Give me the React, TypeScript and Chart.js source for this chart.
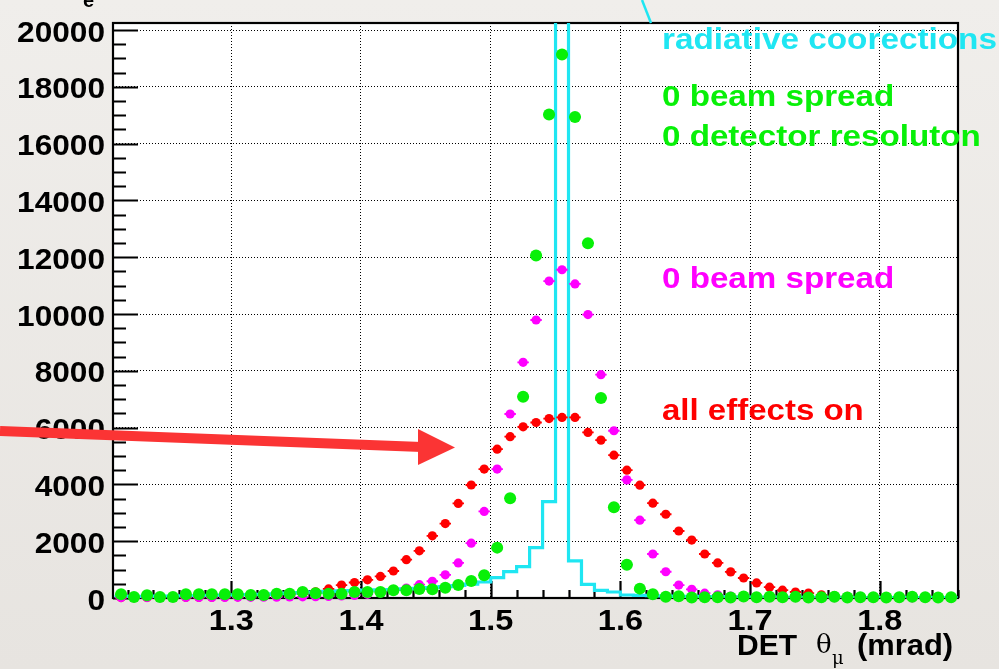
import React, { useEffect, useRef } from 'react';
import { Chart, registerables } from 'chart.js';

Chart.register(...registerables);

// ---------- data ----------
const BIN_HALF_WIDTH = 0.005;

const BIN_CENTERS = [
  1.215, 1.225, 1.235, 1.245, 1.255, 1.265, 1.275, 1.285, 1.295, 1.305,
  1.315, 1.325, 1.335, 1.345, 1.355, 1.365, 1.375, 1.385, 1.395, 1.405,
  1.415, 1.425, 1.435, 1.445, 1.455, 1.465, 1.475, 1.485, 1.495, 1.505,
  1.515, 1.525, 1.535, 1.545, 1.555, 1.565, 1.575, 1.585, 1.595, 1.605,
  1.615, 1.625, 1.635, 1.645, 1.655, 1.665, 1.675, 1.685, 1.695, 1.705,
  1.715, 1.725, 1.735, 1.745, 1.755, 1.765, 1.775, 1.785, 1.795, 1.805,
  1.815, 1.825, 1.835, 1.845, 1.855,
];

// cyan: radiative corrections only (step histogram)
const RADIATIVE = [
  60, 60, 60, 70, 70, 80, 80, 90, 100, 110,
  120, 130, 150, 170, 190, 210, 230, 250, 260, 280,
  290, 300, 320, 340, 370, 400, 440, 490, 564, 716,
  928, 1104, 1774, 3397, 60000, 1305, 483, 272, 212, 106,
  90, 80, 70, 60, 55, 50, 45, 40, 35, 30,
  30, 25, 25, 20, 20, 20, 15, 15, 15, 10,
  10, 10, 10, 10, 10,
];

// green: 0 beam spread, 0 detector resolution
const NO_SPREAD_NO_RES = [
  130, 35, 94, 35, 35, 130, 130, 130, 130, 130,
  106, 106, 152, 152, 212, 165, 152, 152, 212, 212,
  212, 272, 272, 320, 306, 364, 458, 600, 805, 1774,
  3510, 7089, 12062, 17025, 19141, 16940, 12496, 7043, 3195, 1175,
  330, 130, 40, 60, 20, 30, 30, 20, 50, 30,
  40, 30, 40, 20, 30, 40, 20, 30, 30, 20,
  30, 40, 30, 20, 30,
];

// magenta: 0 beam spread
const NO_SPREAD = [
  15, 15, 15, 15, 15, 20, 20, 20, 20, 25,
  25, 30, 30, 35, 40, 45, 55, 70, 90, 130,
  180, 250, 350, 470, 590, 815, 1235, 1930, 3050, 4540,
  6480, 8300, 9790, 11160, 11560, 11060, 9980, 7865, 5890, 4160,
  2740, 1550, 925, 455, 305, 170, 110, 70, 45, 30,
  20, 15, 15, 10, 10, 10, 10, 10, 5, 5,
  5, 5, 5, 5, 5,
];

// red: all effects on
const ALL_EFFECTS = [
  15, 10, 20, 15, 20, 25, 25, 30, 35, 40,
  50, 60, 80, 110, 150, 220, 320, 455, 545, 640,
  760, 950, 1350, 1660, 2190, 2620, 3330, 3980, 4540, 5240,
  5680, 6030, 6180, 6320, 6360, 6360, 5830, 5560, 5030, 4500,
  3975, 3340, 2950, 2360, 2040, 1550, 1235, 920, 705, 530,
  380, 275, 212, 175, 110, 80, 55, 40, 30, 25,
  20, 15, 15, 10, 10,
];

const X_TICKS = [1.3, 1.4, 1.5, 1.6, 1.7, 1.8];
const X_TICK_LABELS = ['1.3', '1.4', '1.5', '1.6', '1.7', '1.8'];
const Y_TICKS = [0, 2000, 4000, 6000, 8000, 10000, 12000, 14000, 16000, 18000, 20000];
const Y_TICK_LABELS = ['0', '2000', '4000', '6000', '8000', '10000', '12000', '14000', '16000', '18000', '20000'];
const X_MIN = 1.2088;
const X_MAX = 1.8603;
const Y_MAX = 20250;
const X_MINOR_STEP = 0.02;
const Y_MINOR_STEP = 500;

// ---------- style ----------
const FONT = '"Liberation Sans", Arial, Helvetica, sans-serif';
const CYAN = '#1fe6f2';
const GREEN = '#08f008';
const MAGENTA = '#ff00ff';
const RED = '#ff0000';

const pts = (vals: number[]) => BIN_CENTERS.map((c, i) => ({ x: c, y: vals[i] }));
const histPts = (vals: number[]) => {
  const out = BIN_CENTERS.map((c, i) => ({ x: c - BIN_HALF_WIDTH, y: vals[i] }));
  const last = BIN_CENTERS.length - 1;
  out.push({ x: BIN_CENTERS[last] + BIN_HALF_WIDTH, y: vals[last] });
  return out;
};

const wideText = (ctx: CanvasRenderingContext2D, s: string, x: number, y: number, sx: number) => {
  ctx.save();
  ctx.translate(x, y);
  ctx.scale(sx, 1);
  ctx.fillText(s, 0, 0);
  ctx.restore();
};

const rootStyle = {
  id: 'rootStyle',
  beforeDraw(chart: any) {
    const { ctx, width, height, chartArea: a } = chart;
    ctx.save();
    const g = ctx.createLinearGradient(0, 0, 0, height);
    g.addColorStop(0, '#f0eeeb');
    g.addColorStop(1, '#e7e4e0');
    ctx.fillStyle = g;
    ctx.fillRect(0, 0, width, height);
    ctx.fillStyle = '#ffffff';
    ctx.fillRect(a.left, a.top, a.right - a.left, a.bottom - a.top);
    ctx.restore();
  },
  beforeDatasetsDraw(chart: any) {
    const { ctx, chartArea: a, scales } = chart;
    const x = scales.x;
    const y = scales.y;
    ctx.save();
    ctx.strokeStyle = '#000';
    ctx.lineWidth = 2.2;
    ctx.beginPath();
    for (let v = 0; v <= Y_TICKS[Y_TICKS.length - 1] + 1; v += Y_MINOR_STEP) {
      const py = Math.round(y.getPixelForValue(v)) + 0.5;
      const major = Y_TICKS.includes(v);
      ctx.moveTo(a.left, py);
      ctx.lineTo(a.left + (major ? 25 : 13), py);
    }
    for (let k = 0; ; k++) {
      const v = Math.round((1.22 + k * X_MINOR_STEP) * 1000) / 1000;
      if (v > X_MAX) break;
      const px = Math.round(x.getPixelForValue(v)) + 0.5;
      const major = X_TICKS.some((t) => Math.abs(t - v) < 1e-6);
      ctx.moveTo(px, a.bottom);
      ctx.lineTo(px, a.bottom - (major ? 17 : 8));
    }
    ctx.stroke();
    ctx.lineWidth = 2.2;
    ctx.strokeRect(a.left, a.top, a.right - a.left, a.bottom - a.top);

    // tick labels (slightly wide bold Helvetica look)
    ctx.fillStyle = '#000';
    ctx.font = `bold 29px ${FONT}`;
    ctx.textBaseline = 'alphabetic';
    ctx.textAlign = 'right';
    Y_TICKS.forEach((v, i) => {
      const py = y.getPixelForValue(v);
      wideText(ctx, Y_TICK_LABELS[i], 105, py + 11.5, 1.09);
    });
    ctx.textAlign = 'center';
    X_TICKS.forEach((v, i) => {
      const px = x.getPixelForValue(v);
      wideText(ctx, X_TICK_LABELS[i], px, 630, 1.12);
    });
    ctx.restore();
  },
  afterDatasetDraw(chart: any, args: any) {
    const ds = chart.data.datasets[args.index];
    if (!ds.errBars) return;
    const { ctx, scales } = chart;
    const x = scales.x;
    ctx.save();
    ctx.strokeStyle = ds.backgroundColor;
    ctx.lineWidth = 1.8;
    ctx.beginPath();
    ds.data.forEach((p: any) => {
      const x1 = x.getPixelForValue(p.x - BIN_HALF_WIDTH + 0.0006);
      const x2 = x.getPixelForValue(p.x + BIN_HALF_WIDTH - 0.0006);
      const py = scales.y.getPixelForValue(p.y);
      ctx.moveTo(x1, py);
      ctx.lineTo(x2, py);
    });
    ctx.stroke();
    ctx.restore();
  },
  afterDraw(chart: any) {
    const { ctx } = chart;
    ctx.save();
    ctx.textBaseline = 'alphabetic';
    ctx.textAlign = 'left';
    ctx.font = `bold 30px ${FONT}`;
    ctx.fillStyle = CYAN;
    wideText(ctx, 'radiative coorections', 662, 49, 1.11);
    ctx.fillStyle = GREEN;
    wideText(ctx, '0 beam spread', 662, 106, 1.105);
    wideText(ctx, '0 detector resoluton', 662, 146, 1.105);
    ctx.fillStyle = MAGENTA;
    wideText(ctx, '0 beam spread', 662, 288, 1.105);
    ctx.fillStyle = RED;
    wideText(ctx, 'all effects on', 662, 420, 1.1);

    ctx.strokeStyle = CYAN;
    ctx.lineWidth = 2.5;
    ctx.beginPath();
    ctx.moveTo(642, 0);
    ctx.lineTo(651, 23);
    ctx.stroke();

    ctx.strokeStyle = '#fb3434';
    ctx.fillStyle = '#fb3434';
    ctx.lineWidth = 10;
    ctx.beginPath();
    ctx.moveTo(0, 431);
    ctx.lineTo(422, 447);
    ctx.stroke();
    ctx.beginPath();
    ctx.moveTo(418, 429);
    ctx.lineTo(455, 447.5);
    ctx.lineTo(418, 465);
    ctx.closePath();
    ctx.fill();

    ctx.fillStyle = '#000';
    ctx.font = `bold 30px ${FONT}`;
    ctx.fillText('DET', 737, 655);
    ctx.font = `26px "DejaVu Serif", "Liberation Serif", serif`;
    ctx.fillText('\u03b8', 816, 653);
    ctx.font = `18px "DejaVu Serif", "Liberation Serif", serif`;
    ctx.fillText('\u03bc', 832, 664);
    ctx.font = `bold 30px ${FONT}`;
    wideText(ctx, '(mrad)', 857, 655, 1.03);

    ctx.font = `bold 20px ${FONT}`;
    ctx.fillText('e', 83, 7);
    ctx.restore();
  },
};

export default function App() {
  const ref = useRef<HTMLCanvasElement>(null);
  useEffect(() => {
    document.body.style.margin = '0';
    const chart = new Chart(ref.current as HTMLCanvasElement, {
      type: 'line',
      data: {
        datasets: [
          {
            label: '0 beam spread, 0 detector resoluton',
            data: pts(NO_SPREAD_NO_RES),
            showLine: false,
            pointRadius: 6,
            pointStyle: 'circle',
            backgroundColor: GREEN,
            borderColor: GREEN,
            pointBorderWidth: 0,
            clip: 10,
            errBars: true,
          } as any,
          {
            label: '0 beam spread',
            data: pts(NO_SPREAD),
            showLine: false,
            pointRadius: 4.6,
            pointStyle: 'circle',
            backgroundColor: MAGENTA,
            borderColor: MAGENTA,
            pointBorderWidth: 0,
            clip: 10,
            errBars: true,
          } as any,
          {
            label: 'all effects on',
            data: pts(ALL_EFFECTS),
            showLine: false,
            pointRadius: 4.6,
            pointStyle: 'circle',
            backgroundColor: RED,
            borderColor: RED,
            pointBorderWidth: 0,
            clip: 10,
            errBars: true,
          } as any,
          {
            label: 'radiative coorections',
            data: histPts(RADIATIVE),
            stepped: 'before',
            borderColor: CYAN,
            borderWidth: 3.2,
            pointRadius: 0,
            fill: false,
          } as any,
        ],
      },
      options: {
        responsive: false,
        maintainAspectRatio: false,
        devicePixelRatio: 1,
        animation: false,
        events: [],
        layout: { padding: { top: 23, right: 41, bottom: 0, left: 0 } },
        plugins: {
          legend: { display: false },
          tooltip: { enabled: false },
          title: { display: false },
        },
        scales: {
          x: {
            type: 'linear',
            min: X_MIN,
            max: X_MAX,
            afterBuildTicks: (s: any) => {
              s.ticks = X_TICKS.map((v) => ({ value: v }));
            },
            afterFit: (s: any) => {
              s.height = 71;
            },
            ticks: { display: false },
            grid: { color: '#000', lineWidth: 1, drawTicks: false },
            border: { display: false, dash: [1, 2] },
          },
          y: {
            type: 'linear',
            min: 0,
            max: Y_MAX,
            afterBuildTicks: (s: any) => {
              s.ticks = Y_TICKS.map((v) => ({ value: v }));
            },
            afterFit: (s: any) => {
              s.width = 113;
            },
            ticks: { display: false },
            grid: { color: '#000', lineWidth: 1, drawTicks: false },
            border: { display: false, dash: [1, 2] },
          },
        },
      } as any,
      plugins: [rootStyle as any],
    });
    return () => chart.destroy();
  }, []);
  return (
    <div style={{ position: 'absolute', left: 0, top: 0, width: 999, height: 669 }}>
      <canvas ref={ref} width={999} height={669} style={{ width: 999, height: 669, display: 'block' }} />
    </div>
  );
}
